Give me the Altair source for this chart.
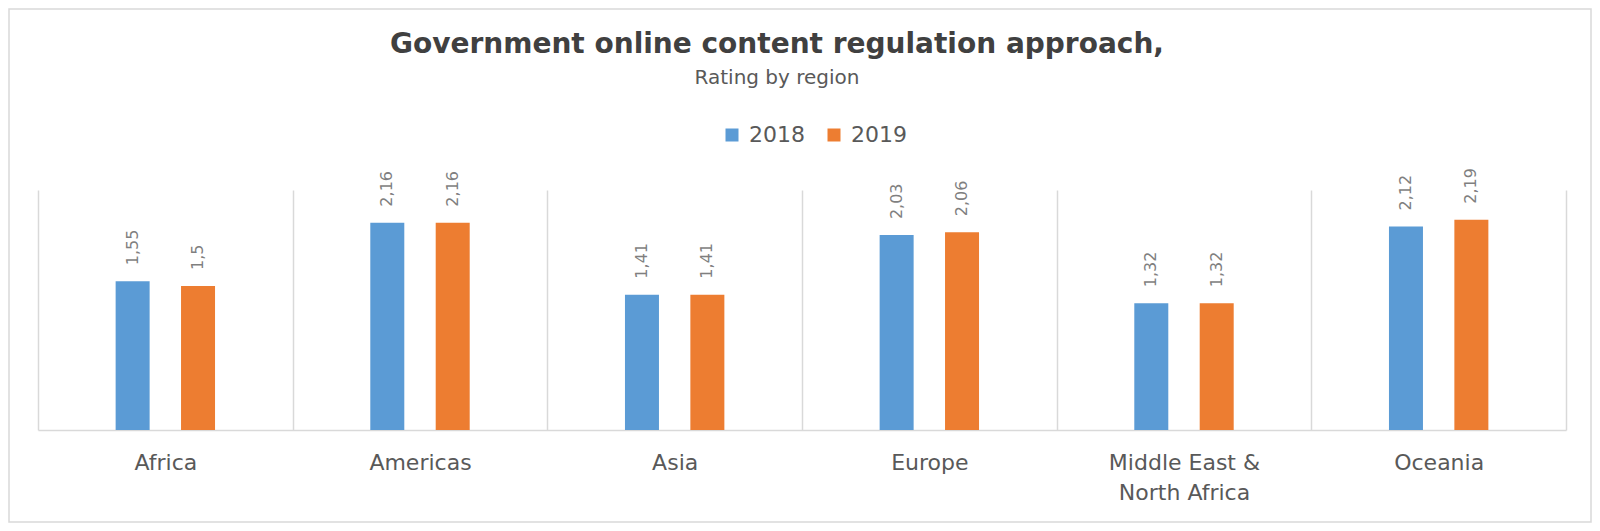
import altair as alt
import pandas as pd

# ---- data ----
regions = ["Africa", "Americas", "Asia", "Europe", "Middle East & North Africa", "Oceania"]
years = ["2018", "2019"]
values_2018 = [1.55, 2.16, 1.41, 2.03, 1.32, 2.12]
values_2019 = [1.50, 2.16, 1.41, 2.06, 1.32, 2.19]
colors = ["#5B9BD5", "#ED7D31"]

rows = []
for r, a, b in zip(regions, values_2018, values_2019):
    for yr, v in zip(years, (a, b)):
        rows.append({"region": r, "year": yr, "value": v,
                     "label": f"{v:g}".replace(".", ",")})
df = pd.DataFrame(rows)

W, H = 1528, 240
FONT = "DejaVu Sans"
GRID = "#D9D9D9"

label_expr = ("datum.value == 'Middle East & North Africa' ? "
              "['Middle East &', 'North Africa'] : datum.value")

base = alt.Chart(df).encode(
    x=alt.X("region:N", sort=regions,
            scale=alt.Scale(paddingInner=0, paddingOuter=0),
            axis=alt.Axis(title=None, labelAngle=0, labelFont=FONT, labelFontSize=22,
                          labelColor="#595959", labelPadding=22, labelBaseline="top",
                          labelLineHeight=30, labelExpr=label_expr, labelLimit=0,
                          ticks=False, domain=True, domainColor=GRID, domainWidth=1.5,
                          grid=True, gridColor=GRID, gridWidth=1.5, tickBand="extent")),
    xOffset=alt.XOffset("year:N", sort=years,
                        scale=alt.Scale(paddingInner=0.106, paddingOuter=1)),
    y=alt.Y("value:Q", scale=alt.Scale(domain=[0, 2.5], nice=False, zero=True), axis=None),
)

bars = base.mark_bar(width=34).encode(
    color=alt.Color("year:N", scale=alt.Scale(domain=years, range=colors),
                    legend=alt.Legend(title=None, orient="none", legendX=683, legendY=-66,
                                      direction="horizontal", symbolType="square",
                                      symbolSize=169, symbolStrokeWidth=0,
                                      labelFont=FONT, labelFontSize=22, labelColor="#595959",
                                      labelOffset=6, columnPadding=18, padding=0))
)

labels = base.mark_text(angle=270, align="left", baseline="middle", dx=16,
                        font=FONT, fontSize=16, color="#7F7F7F").encode(text="label:N")

frame = alt.Chart(alt.Data(values=[{"k": 1}])).mark_rect(
    fillOpacity=0, stroke=GRID, strokeWidth=1.5
).encode(x=alt.value(-29), x2=alt.value(1553), y=alt.value(-181), y2=alt.value(332))

chart = alt.layer(frame, bars, labels).properties(
    width=W, height=H,
    title=alt.Title("Government online content regulation approach,",
                    subtitle="Rating by region",
                    font=FONT, fontSize=28, fontWeight="bold", color="#404040",
                    subtitleFont=FONT, subtitleFontSize=20, subtitleColor="#595959",
                    subtitlePadding=9, anchor="middle", dx=-25, offset=-80),
    autosize=alt.AutoSizeParams(type="none"),
    padding={"left": 30, "top": 182, "right": 26, "bottom": 93},
).configure_view(stroke=None)

chart.save("out.html", embed_options={"renderer": "svg", "actions": False})
